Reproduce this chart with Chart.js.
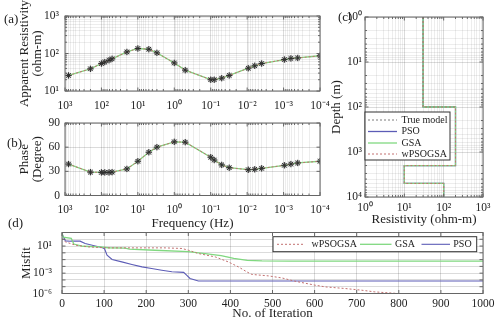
<!DOCTYPE html>
<html><head><meta charset="utf-8">
<script src="https://cdn.jsdelivr.net/npm/chart.js@4.4.1/dist/chart.umd.min.js"></script>
<style>
html,body{margin:0;padding:0;background:#fff;}
#wrap{position:relative;width:500px;height:327px;overflow:hidden;background:#fff;}
#wrap canvas{position:absolute;left:0;top:0;}
</style></head><body>
<div id="wrap">
<canvas id="ca" width="500" height="327"></canvas>
<canvas id="cb" width="500" height="327"></canvas>
<canvas id="cc" width="500" height="327"></canvas>
<canvas id="cd" width="500" height="327"></canvas>
</div>
<script>
// ---------------- DATA ----------------
// (a)/(b) sounding data
const freqHz   = [800, 200, 100, 81, 62, 51, 20, 10, 5, 3, 1, 0.5, 0.1, 0.08, 0.05, 0.031, 0.0093, 0.0062, 0.004, 0.00095, 0.00063, 0.00041, 0.0001];
const appRes   = [26, 39, 54, 59, 66, 72, 110, 136, 130, 104, 56, 36, 20, 20, 22, 26, 40.5, 47, 54, 69, 74, 76, 87];
const phaseDeg = [39, 29, 28.7, 28.7, 28.7, 29, 33, 42.5, 53.7, 60, 66.6, 66.2, 47.5, 44, 38, 34.5, 32, 32.5, 33.7, 37.5, 39, 40.4, 42.5];
// (c) layered models
const layerTop     = [1, 100, 2000, 5000];
const layerBottom  = [100, 2000, 5000, 10000];
const trueModelRes = [30, 200, 10, 100];
const psoModelRes  = [30, 200, 10, 100];
const gsaModelRes  = [30, 200, 10, 100];
const wpsoModelRes = [30, 200, 10, 100];
// (d) convergence
const iterPSO   = [0, 3, 8, 20, 43, 55, 79, 95, 101, 107, 119, 142, 166, 190, 213, 237, 261, 289, 296, 304, 324, 1000];
const misfitPSO = [800, 250, 57.5, 52.5, 52.5, 24, 10.5, 6.3, 4.0, 0.45, 0.105, 0.046, 0.019, 0.0085, 0.0049, 0.00275, 0.00166, 0.00132, 0.0005, 0.000166, 7.1e-5, 7.1e-5];
const iterGSA   = [0, 3, 22, 28, 50, 90, 110, 150, 160, 220, 300, 340, 378, 408, 440, 475, 540, 1000];
const misfitGSA = [708, 200, 141, 20, 9.3, 7.6, 5.6, 5.0, 3.5, 2.4, 1.5, 0.79, 0.4, 0.148, 0.076, 0.063, 0.06, 0.06];
const iterW     = [0, 8, 32, 63, 103, 245, 285, 300, 324, 364, 395, 419, 439, 451, 490, 522, 553, 601, 625, 672, 711, 743, 775, 798, 1000];
const misfitW   = [129, 41, 13.5, 7.6, 5.4, 5.4, 4.4, 2.45, 0.79, 0.25, 0.046, 0.0085, 0.00155, 0.00065, 0.0004, 0.0002, 6.6e-5, 1.7e-5, 9.5e-6, 5.5e-6, 3.1e-6, 1.74e-6, 1.26e-6, 1e-6, 1e-6];
// tick labels
const freqTickExps   = [3, 2, 1, 0, -1, -2, -3, -4];
const resTickExps    = [1, 2, 3];
const phaseTicks     = [0, 30, 60, 90];
const depthTickExps  = [0, 1, 2, 3, 4];
const modelResTickExps = [0, 1, 2, 3];
const misfitTickExps = [1, -3, -6];
const iterTicks      = [0, 100, 200, 300, 400, 500, 600, 700, 800, 900, 1000];
const panelLabels    = ['(a)', '(b)', '(c)', '(d)'];

// ---------------- STYLE ----------------
const GREEN = '#80d880', BLUE = '#5c5cb6', RED = '#c27070', GRAY = '#7a7a7a';
const GRID_MAJ = 'rgba(0,0,0,0.14)', GRID_MIN = 'rgba(0,0,0,0.07)';
const FRAME = '#666';
const FONT = "'Liberation Serif', 'Times New Roman', serif";

Chart.defaults.font.family = FONT;
Chart.defaults.font.size = 11.5;
Chart.defaults.color = '#222';
Chart.defaults.animation = false;
Chart.defaults.responsive = false;
Chart.defaults.plugins.legend.display = false;
Chart.defaults.plugins.tooltip.enabled = false;

const SUP = {'-':'\u207B','0':'\u2070','1':'\u00B9','2':'\u00B2','3':'\u00B3','4':'\u2074','5':'\u2075','6':'\u2076','7':'\u2077','8':'\u2078','9':'\u2079'};
const sup = e => String(e).split('').map(c => SUP[c]).join('');
const isDecade = v => { const l = Math.log10(v); return Math.abs(l - Math.round(l)) < 1e-9; };
function logTicks(e0, e1, minor = true) {
  const t = [];
  for (let e = e0; e < e1; e++) {
    if (minor) { for (let m = 1; m < 10; m++) t.push({value: +(m + 'e' + e)}); }
    else t.push({value: +('1e' + e)});
  }
  t.push({value: +('1e' + e1)});
  return t;
}
const decadeLabel = exps => v => {
  const l = Math.log10(v), r = Math.round(l);
  return (Math.abs(l - r) < 1e-9 && exps.includes(r)) ? '10' + sup(r) : '';
};
const plainLabel = v => String(v);
const gridCol = ctx => (ctx.tick && isDecade(ctx.tick.value)) ? GRID_MAJ : GRID_MIN;
const fixW = w => s => { s.width = w; };
const fixH = h => s => { s.height = h; };
const pts = (xs, ys) => xs.map((x, i) => ({x, y: ys[i]}));
const stepPts = res => { const p = []; res.forEach((r, i) => { p.push({x: r, y: layerTop[i]}); p.push({x: r, y: layerBottom[i]}); }); return p; };
const tickFont = {family: FONT, size: 11.5};
const titleFont = {size: 13, lineHeight: 1, family: FONT};

const framePlugin = {
  id: 'frame',
  afterDatasetsDraw(chart) {
    const {ctx, chartArea: a} = chart;
    ctx.save();
    ctx.strokeStyle = FRAME; ctx.lineWidth = 1;
    ctx.beginPath();
    for (const s of Object.values(chart.scales)) {
      const log = s.type === 'logarithmic';
      for (const t of s.ticks) {
        const len = (!log || isDecade(t.value)) ? 3.5 : 2;
        const p = s.getPixelForValue(t.value);
        if (s.isHorizontal()) {
          ctx.moveTo(p, a.bottom); ctx.lineTo(p, a.bottom - len);
          ctx.moveTo(p, a.top); ctx.lineTo(p, a.top + len);
        } else {
          ctx.moveTo(a.left, p); ctx.lineTo(a.left + len, p);
          ctx.moveTo(a.right, p); ctx.lineTo(a.right - len, p);
        }
      }
    }
    ctx.stroke();
    ctx.strokeRect(a.left, a.top, a.right - a.left, a.bottom - a.top);
    ctx.restore();
  }
};

function boxLegend(cfg) {
  return {
    id: 'boxLegend',
    afterDraw(chart) {
      const ctx = chart.ctx;
      ctx.save();
      ctx.fillStyle = '#fff';
      ctx.fillRect(cfg.x, cfg.y, cfg.w, cfg.h);
      ctx.strokeStyle = '#333'; ctx.lineWidth = 1;
      ctx.strokeRect(cfg.x, cfg.y, cfg.w, cfg.h);
      ctx.font = '10px ' + FONT;
      ctx.textBaseline = 'middle'; ctx.textAlign = 'left';
      cfg.items.forEach(it => {
        const ds = chart.data.datasets[it.ds];
        ctx.strokeStyle = ds.borderColor;
        ctx.lineWidth = ds.borderWidth || 1;
        ctx.setLineDash(ds.borderDash || []);
        ctx.beginPath(); ctx.moveTo(it.x0, it.y); ctx.lineTo(it.x1, it.y); ctx.stroke();
        ctx.setLineDash([]);
        ctx.fillStyle = '#222';
        ctx.fillText(ds.label, it.tx, it.y);
      });
      ctx.restore();
    }
  };
}

const panelLabelPlugin = {
  id: 'panelLabels',
  afterDraw(chart) {
    const ctx = chart.ctx;
    const pos = [[4, 20], [7, 144], [338, 18], [8, 224]];
    ctx.save();
    ctx.font = '13px ' + FONT; ctx.fillStyle = '#222';
    ctx.textBaseline = 'middle'; ctx.textAlign = 'left';
    panelLabels.forEach((t, i) => ctx.fillText(t, pos[i][0], pos[i][1]));
    ctx.restore();
  }
};

function axisBase(gridColor) { return {grid: {color: gridColor || gridCol, drawTicks: false}, border: {display: false}}; }

function soundingDatasets(ys) {
  const d = pts(freqHz, ys);
  return [
    {label: 'Observed', data: d, showLine: false, pointStyle: 'star', pointRadius: 3.2, pointBorderColor: '#2e2e2e', pointBorderWidth: 1, order: 0},
    {label: 'halo', data: d, showLine: false, pointStyle: 'circle', pointRadius: 3, pointBackgroundColor: 'rgba(110,110,110,0.35)', pointBorderWidth: 0, order: 1},
    {label: 'wPSOGSA', data: d, showLine: true, borderColor: RED, borderWidth: 1, borderDash: [2, 2], pointRadius: 0, order: 2},
    {label: 'GSA', data: d, showLine: true, borderColor: GREEN, borderWidth: 1.3, pointRadius: 0, order: 3}
  ];
}

// ---------------- (a) ----------------
new Chart(document.getElementById('ca'), {
  type: 'scatter',
  data: {datasets: soundingDatasets(appRes)},
  options: {
    layout: {padding: {left: 18.5, top: 16, right: 180, bottom: 211}},
    scales: {
      x: Object.assign(axisBase(), {type: 'logarithmic', min: 1e-4, max: 1e3, reverse: true,
        afterBuildTicks: s => { s.ticks = logTicks(-4, 3); }, afterFit: fixH(25),
        ticks: {font: tickFont, autoSkip: false, maxRotation: 0, padding: 8, callback: decadeLabel(freqTickExps)}}),
      y: Object.assign(axisBase(), {type: 'logarithmic', min: 10, max: 1000,
        afterBuildTicks: s => { s.ticks = logTicks(1, 3); }, afterFit: fixW(46.5),
        ticks: {font: tickFont, autoSkip: false, padding: 6, callback: decadeLabel(resTickExps)},
        title: {display: true, text: ['Apparent Resistivity', '(ohm-m)'], font: titleFont, padding: 0}})
    }
  },
  plugins: [framePlugin]
});

// ---------------- (b) ----------------
new Chart(document.getElementById('cb'), {
  type: 'scatter',
  data: {datasets: soundingDatasets(phaseDeg)},
  options: {
    layout: {padding: {left: 18.5, top: 123, right: 180, bottom: 96.5}},
    scales: {
      x: Object.assign(axisBase(), {type: 'logarithmic', min: 1e-4, max: 1e3, reverse: true,
        afterBuildTicks: s => { s.ticks = logTicks(-4, 3); }, afterFit: fixH(35),
        ticks: {font: tickFont, autoSkip: false, maxRotation: 0, padding: 8, callback: decadeLabel(freqTickExps)},
        title: {display: true, text: 'Frequency (Hz)', font: titleFont, padding: 0}}),
      y: Object.assign(axisBase(GRID_MAJ), {type: 'linear', min: 0, max: 90,
        afterBuildTicks: s => { s.ticks = phaseTicks.map(v => ({value: v})); }, afterFit: fixW(46.5),
        ticks: {font: tickFont, autoSkip: false, padding: 5, callback: plainLabel},
        title: {display: true, text: ['Phase', '(Degree)'], font: titleFont, padding: 0}})
    }
  },
  plugins: [framePlugin]
});

// ---------------- (c) ----------------
new Chart(document.getElementById('cc'), {
  type: 'scatter',
  data: {datasets: [
    {label: 'True model', data: stepPts(trueModelRes), showLine: true, borderColor: GRAY, borderWidth: 1, borderDash: [2, 2], pointRadius: 0, order: 2},
    {label: 'PSO', data: stepPts(psoModelRes), showLine: true, borderColor: BLUE, borderWidth: 1.3, pointRadius: 0, order: 3},
    {label: 'GSA', data: stepPts(gsaModelRes), showLine: true, borderColor: GREEN, borderWidth: 1.3, pointRadius: 0, order: 1},
    {label: 'wPSOGSA', data: stepPts(wpsoModelRes), showLine: true, borderColor: RED, borderWidth: 1, borderDash: [2, 2], pointRadius: 0, order: 0}
  ]},
  options: {
    layout: {padding: {left: 330.5, top: 17, right: 17, bottom: 100.5}},
    scales: {
      x: Object.assign(axisBase(), {type: 'logarithmic', min: 1, max: 1000,
        afterBuildTicks: s => { s.ticks = logTicks(0, 3); }, afterFit: fixH(29.5),
        ticks: {font: tickFont, autoSkip: false, maxRotation: 0, padding: 4, callback: decadeLabel(modelResTickExps)},
        title: {display: true, text: 'Resistivity (ohm-m)', font: titleFont, padding: 0}}),
      y: Object.assign(axisBase(), {type: 'logarithmic', min: 1, max: 10000, reverse: true,
        afterBuildTicks: s => { s.ticks = logTicks(0, 4); }, afterFit: fixW(34.5),
        ticks: {font: tickFont, autoSkip: false, padding: 3, callback: decadeLabel(depthTickExps)},
        title: {display: true, text: 'Depth (m)', font: titleFont, padding: 0}})
    }
  },
  plugins: [framePlugin, boxLegend({x: 365, y: 112, w: 85, h: 48, items: [
    {ds: 0, x0: 368, x1: 397, tx: 401.5, y: 120},
    {ds: 1, x0: 368, x1: 397, tx: 401.5, y: 131.5},
    {ds: 2, x0: 368, x1: 397, tx: 401.5, y: 143},
    {ds: 3, x0: 368, x1: 397, tx: 401.5, y: 154}
  ]})]
});

// ---------------- (d) ----------------
new Chart(document.getElementById('cd'), {
  type: 'scatter',
  data: {datasets: [
    {label: 'wPSOGSA', data: pts(iterW, misfitW), showLine: true, borderColor: RED, borderWidth: 1, borderDash: [2, 2], pointRadius: 0, order: 0},
    {label: 'GSA', data: pts(iterGSA, misfitGSA), showLine: true, borderColor: GREEN, borderWidth: 1.3, pointRadius: 0, order: 1},
    {label: 'PSO', data: pts(iterPSO, misfitPSO), showLine: true, borderColor: BLUE, borderWidth: 1.1, pointRadius: 0, order: 2}
  ]},
  options: {
    layout: {padding: {left: 20.5, top: 232.5, right: 17, bottom: 6.9}},
    scales: {
      x: Object.assign(axisBase(GRID_MAJ), {type: 'linear', min: 0, max: 1000,
        afterBuildTicks: s => { s.ticks = iterTicks.map(v => ({value: v})); }, afterFit: fixH(26.6),
        ticks: {font: tickFont, autoSkip: false, maxRotation: 0, padding: 4, callback: plainLabel},
        title: {display: true, text: 'No. of Iteration', font: titleFont, padding: 0}}),
      y: Object.assign(axisBase(), {type: 'logarithmic', min: 1e-6, max: 1e3,
        afterBuildTicks: s => { s.ticks = logTicks(-6, 3, false); }, afterFit: fixW(41.5),
        ticks: {font: tickFont, autoSkip: false, padding: 10, callback: decadeLabel(misfitTickExps)},
        title: {display: true, text: 'Misfit', font: titleFont, padding: 0}})
    }
  },
  plugins: [framePlugin, boxLegend({x: 273, y: 236.7, w: 203.7, h: 15, items: [
    {ds: 0, x0: 277, x1: 305, tx: 311.5, y: 244.3},
    {ds: 1, x0: 360, x1: 391.5, tx: 395, y: 244.3},
    {ds: 2, x0: 421.5, x1: 450, tx: 453.3, y: 244.3}
  ]}), panelLabelPlugin]
});
</script>
</body></html>
